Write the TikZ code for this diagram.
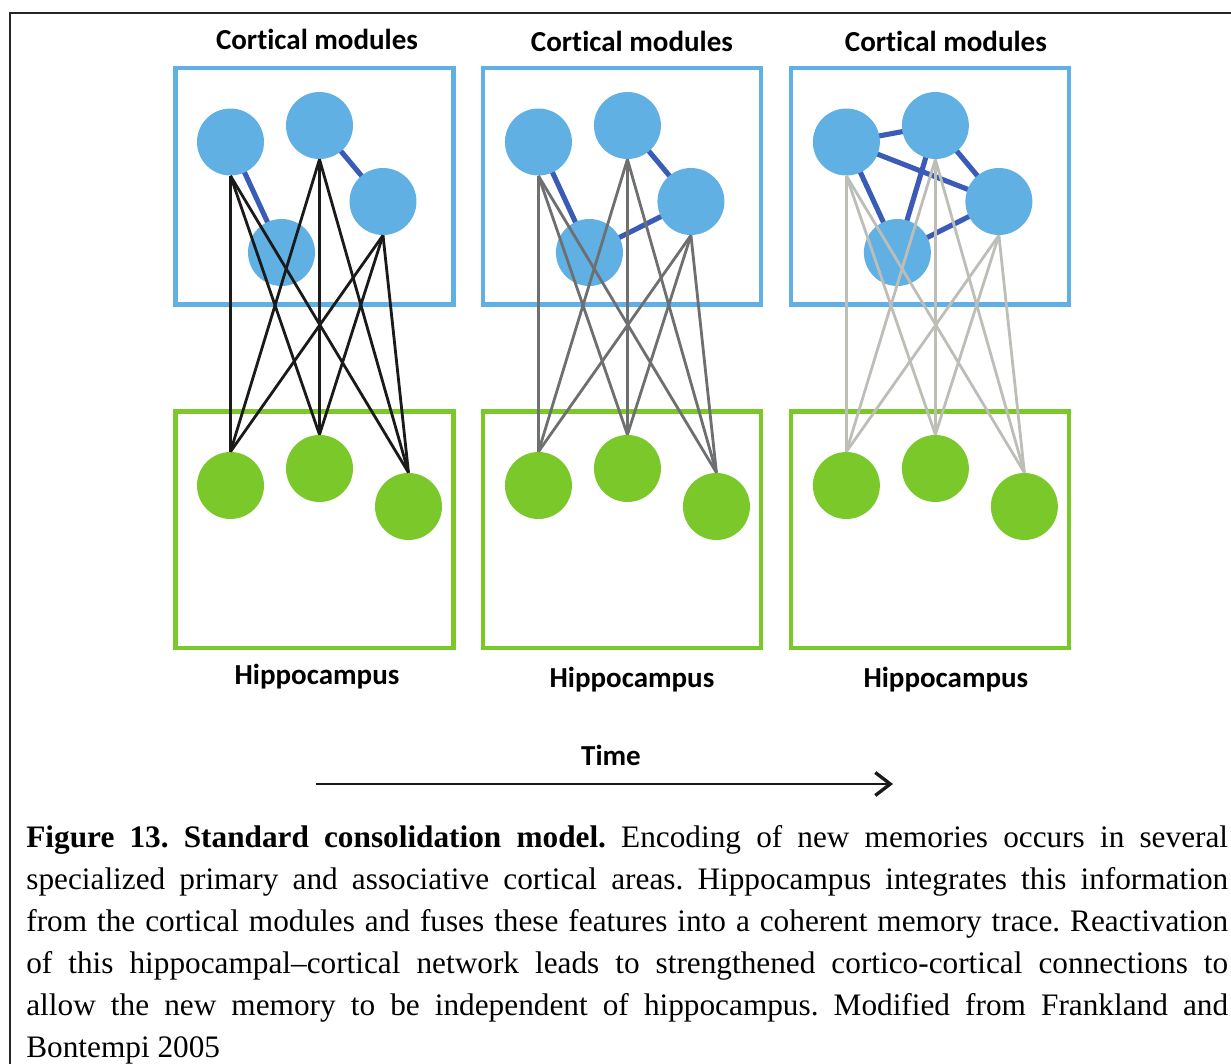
\documentclass[tikz,border=0pt]{standalone}
\usepackage{fontspec}
\setmainfont{Liberation Serif}
\newfontfamily\labelfont[Ligatures=NoCommon]{Carlito}
\usetikzlibrary{arrows.meta}
\definecolor{cortexblue}{RGB}{97,176,227}
\definecolor{linkblue}{RGB}{58,92,182}
\definecolor{hippogreen}{RGB}{122,200,42}
\definecolor{wireblack}{RGB}{26,26,26}
\definecolor{wiregray}{RGB}{110,111,113}
\definecolor{wirelight}{RGB}{190,190,184}
\frenchspacing
\begin{document}
\begin{tikzpicture}[x=0.02cm, y=-0.02cm,
    cell/.style={circle, inner sep=0pt, minimum size=1.34cm},
    ctx/.style={cell, fill=cortexblue},
    hip/.style={cell, fill=hippogreen},
    link/.style={linkblue, line width=2.9pt},
    wire/.style={line width=1.6pt},
    areabox/.style={line width=2.3pt},
    modlabel/.style={font=\labelfont\bfseries\fontsize{16.5}{20}\selectfont, anchor=base, inner sep=0pt}]
    \useasboundingbox (0,0) rectangle (1231,1064);
    % outer frame
    \draw[line width=1.7pt, black!85] (10,1064) -- (10,13) -- (1231,13);
    % three stages
    \foreach \i/\col/\tx/\cy/\hy in {0/wireblack/317/50/684, 1/wiregray/324/52/687, 2/wirelight/330/52/687} {
        \begin{scope}[xshift=\i*6.16cm]
            \draw[areabox, cortexblue] (175.5,68) rectangle (453.5,304.5);
            \draw[areabox, hippogreen] (175.5,411.5) rectangle (453.5,648);
            \node[modlabel] (ctxlbl\i) at (\tx,\cy) {Cortical modules};
            \node[modlabel] (hiplbl\i) at (\tx,\hy) {Hippocampus};
            % cortical links (behind the cells)
            \coordinate (pA\i) at (230.5,142);
            \coordinate (pB\i) at (319.5,125.5);
            \coordinate (pC\i) at (383,201.5);
            \coordinate (pD\i) at (281.5,252.5);
            \draw[link] (pA\i) -- (pD\i);
            \draw[link] (pB\i) -- (pC\i);
            \ifnum\i>0 \draw[link] (pD\i) -- (pC\i); \fi
            \ifnum\i>1
                \draw[link] (pA\i) -- (pB\i);
                \draw[link] (pA\i) -- (pC\i);
                \draw[link] (pB\i) -- (pD\i);
            \fi
            % cells
            \node[ctx] (cA\i) at (pA\i) {};
            \node[ctx] (cB\i) at (pB\i) {};
            \node[ctx] (cC\i) at (pC\i) {};
            \node[ctx] (cD\i) at (pD\i) {};
            \node[hip] (hE\i) at (230.5,485.5) {};
            \node[hip] (hF\i) at (319.5,468.5) {};
            \node[hip] (hG\i) at (408.5,506.5) {};
            % hippocampal-cortical wiring
            \foreach \s in {A,B,C}
                \foreach \t in {E,F,G}
                    \draw[wire, \col] (c\s\i.south) -- (h\t\i.north);
        \end{scope}
    }
    % time axis
    \node[modlabel] (timelbl) at (611,765) {Time};
    \coordinate (tstart) at (316,784);
    \coordinate (tend) at (893,784);
    \draw[line width=1.7pt, black!90, -{Straight Barb[length=0.3cm, width=0.46cm, line width=1.9pt]}] (tstart) -- (tend);
    % caption
    \node[anchor=base west, inner sep=0pt] (caption) at (26,847.5) {\parbox[t]{24.04cm}{\fontsize{17.8}{23.95}\selectfont
        \textbf{Figure 13. Standard consolidation model.} Encoding of new memories occurs in several\linebreak
        specialized primary and associative cortical areas. Hippocampus integrates this information\linebreak
        from the cortical modules and fuses these features into a coherent memory trace. Reactivation\linebreak
        of this hippocampal--cortical network leads to strengthened cortico-cortical connections to\linebreak
        allow the new memory to be independent of hippocampus. Modified from Frankland and\linebreak
        Bontempi 2005}};
\end{tikzpicture}
\end{document}
